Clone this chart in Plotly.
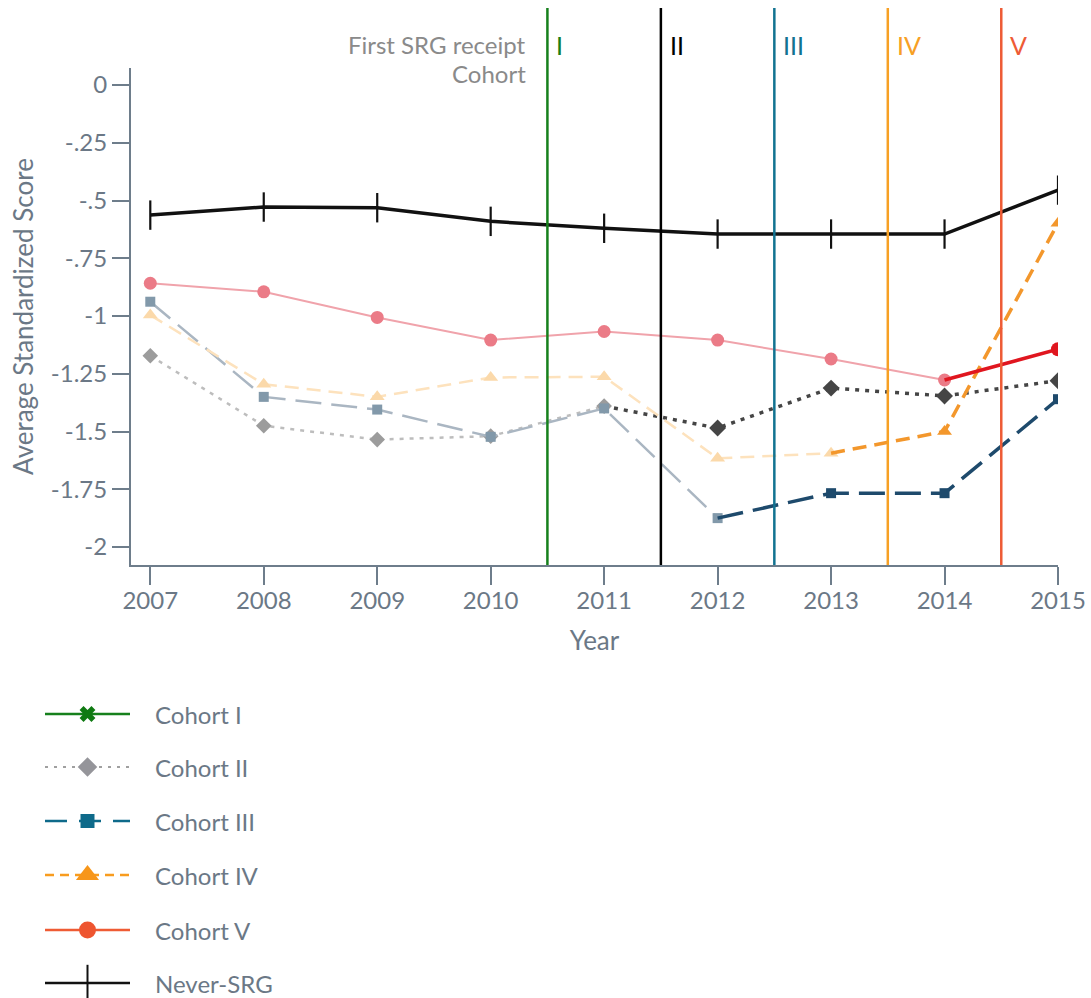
import plotly.graph_objects as go

# ---------------- data ----------------
years = [2007, 2008, 2009, 2010, 2011, 2012, 2013, 2014, 2015]
never_srg = [-0.563, -0.528, -0.531, -0.59, -0.62, -0.645, -0.645, -0.645, -0.455]
cohort_ii = [-1.172, -1.475, -1.535, -1.52, -1.39, -1.485, -1.312, -1.346, -1.28]
cohort_iii = [-0.938, -1.35, -1.405, -1.523, -1.40, -1.875, -1.767, -1.767, -1.36]
cohort_iv = [-0.996, -1.295, -1.35, -1.266, -1.263, -1.616, -1.594, -1.50, -0.598]
cohort_v = [-0.858, -0.895, -1.006, -1.104, -1.067, -1.104, -1.186, -1.277, -1.144]

cohort_names = ["Cohort I", "Cohort II", "Cohort III", "Cohort IV", "Cohort V"]
cohort_numerals = ["I", "II", "III", "IV", "V"]
first_receipt = [2010.5, 2011.5, 2012.5, 2013.5, 2014.5]

y_tickvals = [0, -0.25, -0.5, -0.75, -1, -1.25, -1.5, -1.75, -2]
y_ticktext = ["0", "-.25", "-.5", "-.75", "-1", "-1.25", "-1.5", "-1.75", "-2"]
x_tickvals = years
x_ticktext = [str(y) for y in years]

# ---------------- styling ----------------
W, H = 1091, 998
FONT = "Lato"
AXIS = "#6e7d8b"
TICKTXT = "#6b7886"
line_colors = ["#16801c", "#000000", "#127391", "#f7a024", "#ee5b35"]

def px_x(p):
    return p / W

def px_y(p):
    return 1 - p / H

fig = go.Figure()

# series: (values, cohort index, faded style, dark style)
series = [
    (cohort_ii, 1,
     dict(line=dict(color="#bdbdbd", width=2.5, dash="4px,6px"),
          marker=dict(symbol="diamond", color="#9c9c9c", size=12)),
     dict(line=dict(color="#454545", width=3.5, dash="4px,6px"),
          marker=dict(symbol="diamond", color="#454545", size=13))),
    (cohort_iii, 2,
     dict(line=dict(color="#aab6c2", width=2.5, dash="26px,10px"),
          marker=dict(symbol="square", color="#8299aa", size=10)),
     dict(line=dict(color="#1e4a6c", width=3.5, dash="26px,10px"),
          marker=dict(symbol="square", color="#1e4a6c", size=10))),
    (cohort_iv, 3,
     dict(line=dict(color="#fde2bd", width=2.5, dash="14px,8px"),
          marker=dict(symbol="triangle-up", color="#fbd9aa", size=13)),
     dict(line=dict(color="#f3972c", width=3.5, dash="14px,8px"),
          marker=dict(symbol="triangle-up", color="#f3972c", size=13))),
    (cohort_v, 4,
     dict(line=dict(color="#f0a3ab", width=2),
          marker=dict(symbol="circle", color="#eb7b87", size=13)),
     dict(line=dict(color="#e0161f", width=3.5),
          marker=dict(symbol="circle", color="#e0161f", size=14))),
]

for vals, ci, faded, dark in series:
    k = years.index(int(first_receipt[ci] - 0.5))
    fm = dict(faded["marker"], opacity=1, line=dict(width=0))
    fig.add_trace(go.Scatter(
        x=years[:k + 1], y=vals[:k + 1], mode="lines+markers",
        line=faded["line"], marker=fm, showlegend=False,
        hoverinfo="skip"))
    sizes = [0] + [dark["marker"]["size"]] * (len(years) - k - 1)
    dm = dict(dark["marker"], opacity=1, line=dict(width=0))
    dm["size"] = sizes
    fig.add_trace(go.Scatter(
        x=years[k:], y=vals[k:], mode="lines+markers",
        line=dark["line"], marker=dm, showlegend=False,
        name=cohort_names[ci]))

fig.add_trace(go.Scatter(
    x=years, y=never_srg, mode="lines+markers", name="Never-SRG",
    line=dict(color="#111111", width=3.5),
    marker=dict(symbol="line-ns", size=21, opacity=1,
                line=dict(width=2.2, color="#111111")),
    showlegend=False))

# vertical first-receipt lines
for ci, xv in enumerate(first_receipt):
    fig.add_shape(type="line", xref="x", yref="paper",
                  x0=xv, x1=xv, y0=px_y(565), y1=px_y(8),
                  line=dict(color=line_colors[ci], width=2.5), layer="above")
    fig.add_annotation(x=xv, xref="x", y=px_y(45), yref="paper",
                       text=cohort_numerals[ci], showarrow=False,
                       xanchor="left", yanchor="middle", xshift=7,
                       font=dict(family=FONT, size=25, color=line_colors[ci]))

fig.add_annotation(x=px_x(528), y=px_y(45), xref="paper", yref="paper",
                   text="First SRG receipt", showarrow=False,
                   xanchor="right", yanchor="middle",
                   font=dict(family=FONT, size=24, color="#8a8a8a"))
fig.add_annotation(x=px_x(528), y=px_y(73), xref="paper", yref="paper",
                   text="Cohort", showarrow=False,
                   xanchor="right", yanchor="middle",
                   font=dict(family=FONT, size=24, color="#8a8a8a"))

# ---------------- custom legend (separate small axes) ----------------
legend_rows = [714, 767, 821, 875, 930, 983]
legend_names = cohort_names + ["Never-SRG"]
legend_styles = [
    dict(line=dict(color=line_colors[0], width=2.5),
         marker=dict(symbol="x", size=14, color="#0f7a12", line=dict(width=0))),
    dict(line=dict(color="#a0a0a0", width=2, dash="3px,6px"),
         marker=dict(symbol="diamond", size=15, color="#95959a", line=dict(width=0))),
    dict(line=dict(color="#0e6a8a", width=2.5, dash="22px,12px"),
         marker=dict(symbol="square", size=14, color="#0e6a8a", line=dict(width=0))),
    dict(line=dict(color="#f89c1f", width=2.5, dash="9px,6px"),
         marker=dict(symbol="triangle-up", size=20, color="#f7961a", line=dict(width=0))),
    dict(line=dict(color="#ef5b34", width=2.5),
         marker=dict(symbol="circle", size=17, color="#ee5530", line=dict(width=0))),
    dict(line=dict(color="#111111", width=2.5),
         marker=dict(symbol="line-ns", size=26, line=dict(width=2, color="#111111"))),
]
for row, name, st in zip(legend_rows, legend_names, legend_styles):
    m = dict(st["marker"], opacity=1)
    m["size"] = [0, m["size"], 0]
    fig.add_trace(go.Scatter(x=[0, 0.5, 1], y=[row] * 3, mode="lines+markers",
                             line=st["line"], marker=m, xaxis="x2", yaxis="y2",
                             showlegend=False, hoverinfo="skip", cliponaxis=False))
    fig.add_annotation(x=px_x(153), y=px_y(row), xref="paper", yref="paper",
                       text=name, showarrow=False, xanchor="left", yanchor="middle",
                       font=dict(family=FONT, size=24, color=TICKTXT))

fig.update_layout(
    width=W, height=H, autosize=False,
    margin=dict(l=0, r=0, t=0, b=0, autoexpand=False),
    paper_bgcolor="white", plot_bgcolor="white",
    font=dict(family=FONT, size=24, color=TICKTXT),
    showlegend=False,
    xaxis=dict(
        domain=[px_x(131), px_x(1058)],
        range=[2006.83, 2015], tickmode="array",
        tickvals=x_tickvals, ticktext=x_ticktext,
        showgrid=False, zeroline=False, showline=True, linecolor=AXIS, linewidth=2,
        ticks="outside", ticklen=18, tickwidth=1.5, tickcolor=AXIS,
        tickfont=dict(family=FONT, size=24, color=TICKTXT),
        ticklabelstandoff=-5,
        title=dict(text="Year", font=dict(family=FONT, size=26, color=TICKTXT), standoff=19),
        anchor="y", automargin=False,
    ),
    yaxis=dict(
        domain=[px_y(565), px_y(68)],
        range=[-2.078, 0.074], tickmode="array",
        tickvals=y_tickvals, ticktext=y_ticktext,
        showgrid=False, zeroline=False, showline=True, linecolor=AXIS, linewidth=2,
        ticks="outside", ticklen=17, tickwidth=1.5, tickcolor=AXIS,
        tickfont=dict(family=FONT, size=24, color=TICKTXT),
        title=dict(text="Average Standardized Score", font=dict(family=FONT, size=26, color=TICKTXT), standoff=10),
        anchor="x", automargin=False,
    ),
    xaxis2=dict(domain=[px_x(45), px_x(130)], range=[0, 1], visible=False,
                anchor="y2", fixedrange=True),
    yaxis2=dict(domain=[0, px_y(690)], range=[H, 690], visible=False,
                anchor="x2", fixedrange=True),
)

fig.write_html("out.html", config={"responsive": False, "displayModeBar": False},
               post_script="document.body.style.margin='0px';document.body.style.overflow='hidden';")
